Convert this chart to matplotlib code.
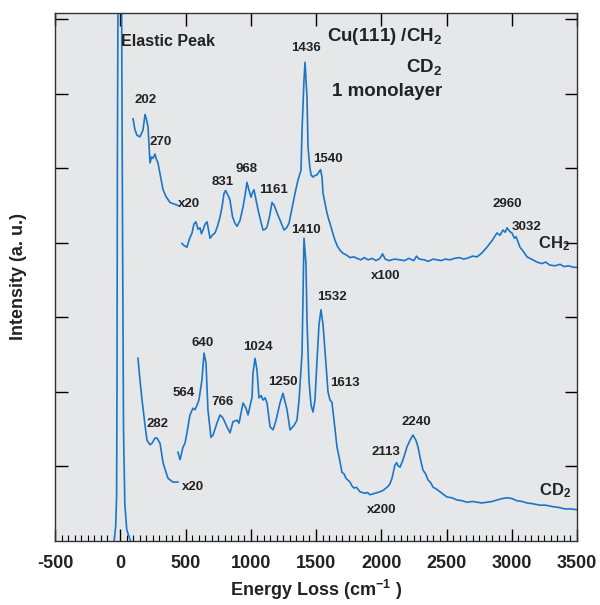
import matplotlib
matplotlib.use("Agg")
import matplotlib.pyplot as plt
from matplotlib.ticker import MultipleLocator

plt.rcParams['font.family'] = ['Liberation Sans', 'DejaVu Sans']
plt.rcParams['font.weight'] = 'bold'
plt.rcParams['mathtext.fontset'] = 'custom'
plt.rcParams['mathtext.rm'] = 'Liberation Sans:bold'
plt.rcParams['mathtext.bf'] = 'Liberation Sans:bold'
plt.rcParams['mathtext.default'] = 'bf'
plt.rcParams['axes.unicode_minus'] = False

# elastic peak (clipped at the top)
elastic_x = [-48, -35, -28, -25, -22, -12, -3, 6, 12, 18, 25, 35, 50, 82]
elastic_y = [-0.02, 0.2, 0.6, 2.0, 5.0, 10.0, 16.0, 11.0, 6.5, 4.0, 1.5, 0.5, 0.15, -0.02]

# CH2, x20 low-energy part
ch2_a_x = [98, 112, 128, 151, 174, 190, 200, 213, 228, 240, 251, 266, 277, 289, 305,
           328, 350, 381, 410, 442]
ch2_a_y = [5.66, 5.52, 5.44, 5.42, 5.51, 5.72, 5.66, 5.55, 5.07, 5.15, 5.13, 5.19,
           5.12, 5.07, 4.92, 4.71, 4.62, 4.54, 4.52, 4.50]

# CH2, x100 part
ch2_b_x = [473, 490, 511, 530, 550, 565, 580, 596, 611, 622, 634, 650, 665, 688, 705,
           726, 745, 764, 780, 795, 807, 818, 830, 841, 860, 879, 895, 918, 941, 955,
           971, 987, 1002, 1015, 1025, 1040, 1056, 1075, 1094, 1110, 1125, 1145, 1163,
           1180, 1201, 1225, 1255, 1275, 1293, 1315, 1339, 1362, 1385, 1393, 1408, 1416,
           1431, 1439, 1452, 1462, 1477, 1492, 1508, 1523, 1535, 1546, 1554, 1570, 1584,
           1596, 1607, 1625, 1646, 1665, 1684, 1705, 1738, 1760, 1790, 1814, 1845, 1870,
           1900, 1930, 1960, 1990, 2010, 2030, 2060, 2100, 2144, 2180, 2210, 2250, 2270,
           2290, 2330, 2360, 2397, 2430, 2460, 2490, 2527, 2560, 2600, 2630, 2657, 2700,
           2734, 2770, 2810, 2850, 2887, 2910, 2933, 2950, 2964, 2985, 3002, 3020, 3033,
           3048, 3063, 3090, 3117, 3150, 3194, 3230, 3260, 3292, 3330, 3370, 3400, 3440,
           3470, 3500]
ch2_b_y = [3.99, 3.96, 3.94, 4.05, 4.13, 4.25, 4.28, 4.18, 4.20, 4.12, 4.17, 4.25,
           4.28, 4.06, 4.10, 4.13, 4.22, 4.34, 4.48, 4.66, 4.70, 4.66, 4.62, 4.57, 4.35,
           4.26, 4.22, 4.30, 4.48, 4.62, 4.81, 4.70, 4.61, 4.68, 4.71, 4.58, 4.44, 4.30,
           4.17, 4.18, 4.21, 4.36, 4.54, 4.50, 4.40, 4.30, 4.17, 4.20, 4.26, 4.45, 4.66,
           4.84, 4.97, 5.51, 6.18, 6.42, 5.95, 5.28, 5.02, 4.91, 4.88, 4.90, 4.91, 4.95,
           4.98, 4.88, 4.66, 4.52, 4.40, 4.32, 4.26, 4.15, 4.03, 3.95, 3.90, 3.86, 3.83,
           3.80, 3.81, 3.79, 3.77, 3.80, 3.77, 3.79, 3.76, 3.79, 3.85, 3.78, 3.76, 3.78,
           3.77, 3.76, 3.79, 3.76, 3.82, 3.78, 3.77, 3.75, 3.78, 3.77, 3.76, 3.78, 3.77,
           3.79, 3.80, 3.78, 3.79, 3.82, 3.81, 3.86, 3.94, 4.03, 4.13, 4.10, 4.17, 4.14,
           4.20, 4.15, 4.13, 4.06, 4.08, 4.01, 3.94, 3.88, 3.81, 3.78, 3.74, 3.72, 3.74,
           3.70, 3.69, 3.71, 3.68, 3.69, 3.67, 3.67]

# CD2, x20 low-energy part
cd2_a_x = [136, 151, 167, 190, 205, 228, 243, 266, 281, 305, 328, 351, 366, 404, 442]
cd2_a_y = [2.45, 2.16, 1.89, 1.55, 1.35, 1.29, 1.31, 1.38, 1.38, 1.31, 1.05, 0.92, 0.84,
           0.79, 0.79]

# CD2, x200 part
cd2_b_x = [442, 458, 481, 496, 511, 534, 542, 557, 573, 588, 603, 626, 642, 657, 672,
           695, 711, 741, 764, 787, 818, 841, 864, 895, 910, 941, 964, 979, 1010, 1017,
           1033, 1048, 1063, 1080, 1094, 1110, 1125, 1148, 1171, 1194, 1224, 1247, 1278,
           1301, 1332, 1354, 1370, 1393, 1408, 1423, 1431, 1446, 1462, 1477, 1492, 1508,
           1523, 1538, 1554, 1577, 1592, 1607, 1622, 1638, 1661, 1680, 1699, 1715, 1730,
           1761, 1775, 1791, 1810, 1837, 1855, 1876, 1895, 1914, 1952, 1990, 2015, 2044,
           2065, 2082, 2105, 2118, 2128, 2144, 2167, 2197, 2220, 2243, 2266, 2282, 2300,
           2320, 2340, 2358, 2380, 2397, 2420, 2450, 2480, 2504, 2540, 2581, 2620, 2657,
           2700, 2734, 2770, 2810, 2850, 2887, 2930, 2964, 3000, 3040, 3080, 3117, 3160,
           3217, 3260, 3317, 3360, 3408, 3450, 3500]
cd2_b_y = [1.19, 1.09, 1.26, 1.31, 1.45, 1.69, 1.72, 1.78, 1.76, 1.82, 1.89, 2.16, 2.52,
           2.39, 1.76, 1.39, 1.42, 1.58, 1.69, 1.65, 1.53, 1.45, 1.60, 1.62, 1.58, 1.85,
           1.78, 1.69, 1.93, 2.25, 2.45, 2.29, 1.92, 1.95, 1.89, 1.92, 1.85, 1.53, 1.49,
           1.62, 1.85, 1.98, 1.76, 1.49, 1.55, 1.62, 1.89, 2.52, 4.06, 3.73, 2.96, 2.16,
           1.82, 1.73, 1.89, 2.43, 2.90, 3.10, 2.90, 2.36, 2.00, 1.89, 1.86, 1.62, 1.26,
           1.10, 0.92, 0.90, 0.84, 0.79, 0.74, 0.71, 0.72, 0.66, 0.65, 0.64, 0.65, 0.62,
           0.64, 0.66, 0.68, 0.72, 0.76, 0.84, 1.02, 1.05, 1.01, 0.99, 1.09, 1.26, 1.35,
           1.42, 1.35, 1.26, 1.10, 0.95, 0.90, 0.82, 0.78, 0.72, 0.70, 0.66, 0.62, 0.59,
           0.58, 0.55, 0.54, 0.52, 0.53, 0.52, 0.51, 0.52, 0.53, 0.55, 0.57, 0.58, 0.57,
           0.54, 0.53, 0.51, 0.50, 0.48, 0.48, 0.46, 0.45, 0.43, 0.43, 0.42]

# peak labels: (text, x, y)
labels = [
    ("202", 197, 5.91), ("270", 312, 5.35), ("831", 787, 4.81), ("968", 971, 4.99),
    ("1161", 1171, 4.71), ("1436", 1423, 6.61), ("1540", 1592, 5.12),
    ("2960", 2964, 4.52), ("3032", 3117, 4.21), ("x100", 2036, 3.55),
    ("1410", 1423, 4.17), ("1532", 1622, 3.27), ("640", 634, 2.65),
    ("1024", 1056, 2.60), ("564", 488, 1.98), ("766", 787, 1.86),
    ("1250", 1247, 2.13), ("282", 282, 1.57), ("x20", 557, 0.72),
    ("1613", 1722, 2.12), ("2240", 2266, 1.60), ("2113", 2036, 1.19),
    ("x200", 2006, 0.42),
]

blue = '#1c76c8'
ink = '#222222'

fig = plt.figure(figsize=(6, 6.05), dpi=100)
ax = fig.add_axes([55 / 600, 64 / 605, 522 / 600, 528 / 605])
ax.set_facecolor('#e6e7e9')

lw = 1.2
ax.plot(elastic_x, elastic_y, color=blue, lw=lw)
ax.plot(ch2_a_x, ch2_a_y, color=blue, lw=lw)
ax.plot(ch2_b_x, ch2_b_y, color=blue, lw=lw)
ax.plot(cd2_a_x, cd2_a_y, color=blue, lw=lw)
ax.plot(cd2_b_x, cd2_b_y, color=blue, lw=lw)

for txt, x, y in labels:
    ax.text(x, y, txt, fontsize=9.5, fontweight='bold', ha='center', va='center',
            color=ink)

ax.text(443, 4.52, "x20", fontsize=9.5, fontweight='bold', ha='left', va='center',
        color=ink)
ax.text(5, 6.70, "Elastic Peak", fontsize=11.5, fontweight='bold', ha='left',
        va='center', color=ink)
ax.text(3324, 3.99, "CH$_2$", fontsize=12, ha='center', va='center', color=ink)
ax.text(3332, 0.68, "CD$_2$", fontsize=12, ha='center', va='center', color=ink)
ax.text(2466, 6.76, "Cu(111) /CH$_2$", fontsize=13.5, ha='right', va='center', color=ink)
ax.text(2466, 6.35, "CD$_2$", fontsize=13.5, ha='right', va='center', color=ink)
ax.text(2466, 6.03, "1 monolayer", fontsize=13.5, fontweight='bold', ha='right',
        va='center', color=ink)

ax.set_xlim(-500, 3500)
ax.set_ylim(0, 7.08)
ax.xaxis.set_major_locator(MultipleLocator(500))
ax.xaxis.set_minor_locator(MultipleLocator(50))
ax.set_yticks([1, 2, 3, 4, 5, 6, 7])
ax.tick_params(axis='x', which='major', direction='in', length=9, width=1,
               top=True, labelsize=13, pad=10, labelcolor=ink)
ax.tick_params(axis='x', which='minor', direction='in', length=4, width=0.8,
               top=False)
ax.tick_params(axis='y', which='major', direction='in', length=9, width=1,
               right=True, labelleft=False)
for lab in ax.get_xticklabels():
    lab.set_fontweight('bold')
for s in ax.spines.values():
    s.set_linewidth(1.0)
    s.set_color('#333333')

ax.set_xlabel("Energy Loss (cm$^{-1}$ )", fontsize=13, fontweight='bold', labelpad=4,
              color=ink)
ax.set_ylabel("Intensity (a. u.)", fontsize=13, fontweight='bold', labelpad=20,
              color=ink)

fig.savefig("out.png", dpi=100)
